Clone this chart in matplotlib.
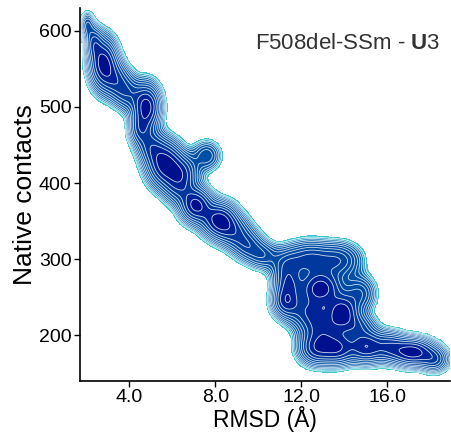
import matplotlib
matplotlib.use('Agg')
import matplotlib.pyplot as plt
import numpy as np
from matplotlib.colors import LinearSegmentedColormap

plt.rcParams['font.family'] = ['Liberation Sans', 'DejaVu Sans']
plt.rcParams['mathtext.fontset'] = 'custom'
plt.rcParams['mathtext.rm'] = 'Liberation Sans'
plt.rcParams['mathtext.bf'] = 'Liberation Sans:bold'

# basins: centre (RMSD, contacts), weight, spread
rmsd_c = [2.05, 2.35, 2.8, 3.4, 3.9, 4.8, 4.5, 5.0, 5.65, 6.5, 6.3, 7.6, 7.1, 8.2, 8.9, 9.5, 10.2,
          11.3, 11.3, 11.4, 12.9, 13.9, 12.4, 13.8, 12.4, 14.7, 13.0, 14.6,
          12.7, 13.7, 15.0, 16.1, 17.2, 18.2]
contacts_c = [608, 585, 557, 535, 518, 500, 470, 448, 425, 415, 395, 436, 371, 351, 335, 318, 305,
              290, 245, 268, 262, 230, 300, 298, 230, 255, 208, 212,
              183, 183, 185, 185, 178, 168]
weight = [0.3, 0.45, 1.0, 0.45, 0.4, 1.0, 0.45, 0.45, 1.0, 0.5, 0.45, 0.3, 0.95, 1.0, 0.45, 0.4, 0.35,
          0.4, 0.75, 0.45, 1.0, 1.0, 0.55, 0.45, 0.6, 0.4, 0.55, 0.4,
          0.75, 0.8, 0.8, 0.55, 1.0, 0.45]
sig_x = [0.2, 0.25, 0.4, 0.4, 0.4, 0.4, 0.33, 0.4, 0.5, 0.45, 0.45, 0.4, 0.45, 0.5, 0.5, 0.45, 0.45,
         0.45, 0.4, 0.4, 0.6, 0.45, 0.7, 0.6, 0.6, 0.45, 0.6, 0.5,
         0.5, 0.5, 0.5, 0.5, 0.6, 0.4]
sig_y = [10, 13, 20, 15, 14, 18, 13, 14, 18, 14, 14, 12, 14, 14, 13, 12, 11,
         14, 13, 12, 14, 14, 14, 14, 14, 14, 13, 11,
         13, 13, 13, 12, 11, 10]

xs = np.linspace(1.7, 18.9, 500)
ys = np.linspace(140, 630, 500)
X, Y = np.meshgrid(xs, ys)
dens = np.zeros_like(X)
for cx, cy, w, sx, sy in zip(rmsd_c, contacts_c, weight, sig_x, sig_y):
    dens += w * np.exp(-0.5 * (((X - cx) / sx) ** 2 + ((Y - cy) / sy) ** 2))
F = -np.log(dens / dens.max() + 1e-12)
fmax = 3.1
F = np.ma.masked_greater(F, fmax)

cmap = LinearSegmentedColormap.from_list(
    'fe', [(0.0, '#00068A'), (0.1, '#001C94'), (0.2, '#00379E'), (0.33, '#0049A3'),
           (0.6, '#0053A7'), (0.74, '#0A64AE'), (0.85, '#1A84C2'), (0.93, '#2EB2CA'),
           (1.0, '#55DDD3')])
levels = np.linspace(0, fmax, 13)

fig = plt.figure(figsize=(4.51, 4.41), dpi=100)
ax = fig.add_axes([0.177, 0.136, 0.82, 0.846])
ax.contourf(X, Y, F, levels=levels, cmap=cmap)
ax.contour(X, Y, F, levels=levels[1:-1], colors='white', linewidths=0.6, alpha=0.8)

ax.set_xlim(1.7, 18.9)
ax.set_ylim(140, 630)
ax.set_xticks([4, 8, 12, 16])
ax.set_xticklabels(['4.0', '8.0', '12.0', '16.0'])
ax.set_yticks([200, 300, 400, 500, 600])
ax.tick_params(labelsize=14, direction='out', length=4, width=1, colors='black', pad=2)
ax.spines['top'].set_visible(False)
ax.spines['right'].set_visible(False)
ax.spines['left'].set_linewidth(1.2)
ax.spines['bottom'].set_linewidth(1.2)
ax.set_xlabel('RMSD (Å)', fontsize=16.5, labelpad=0)
ax.set_ylabel('Native contacts', fontsize=19, labelpad=1)
ax.text(0.975, 0.906, r'F508del-SSm - $\mathbf{U}$3', transform=ax.transAxes,
        ha='right', va='center', fontsize=16, color='#333333')

fig.savefig('out.png', dpi=100)
